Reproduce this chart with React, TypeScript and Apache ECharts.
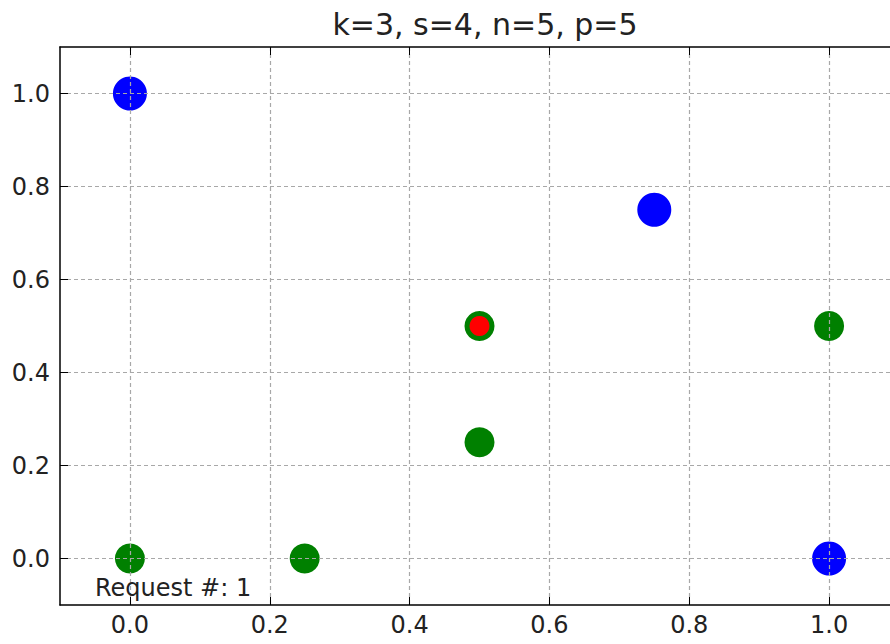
import React, { useEffect, useRef } from "react";
import * as echarts from "echarts";

const titleText = "k=3, s=4, n=5, p=5";
const annotation = "Request #: 1";
const tickValues = [0, 0.2, 0.4, 0.6, 0.8, 1.0];
const blueX = [0, 0.75, 1];
const blueY = [1, 0.75, 0];
const greenX = [0, 0.25, 0.5, 0.5, 1];
const greenY = [0, 0, 0.25, 0.5, 0.5];
const redX = [0.5];
const redY = [0.5];

const FONT = "DejaVu Sans";

export default function App() {
  const ref = useRef<HTMLDivElement>(null);
  useEffect(() => {
    if (!ref.current) return;
    const chart = echarts.init(ref.current, null, { renderer: "svg" });
    const pts = (xs: number[], ys: number[]) => xs.map((x, i) => [x, ys[i]]);
    const gridLine = { show: true, lineStyle: { color: "#a8a8a8", width: 1.2, type: [4, 3] as any } };
    const baseAxis = (pos: string, labels: boolean, split: boolean) => ({
      type: "value",
      position: pos,
      min: -0.1,
      max: 1.1,
      z: 5,
      axisLine: { show: true, onZero: false, lineStyle: { color: "#000", width: 1.5 } },
      axisTick: { show: true, inside: true, length: 8, customValues: tickValues, lineStyle: { color: "#000", width: 1 } },
      axisLabel: {
        show: labels,
        customValues: tickValues,
        formatter: (v: number) => v.toFixed(1),
        color: "#222",
        fontFamily: FONT,
        fontSize: 24,
        margin: pos === "left" ? 10 : 8,
      },
      splitLine: split ? { ...gridLine, customValues: tickValues } : { show: false },
    });
    chart.setOption({
      animation: false,
      backgroundColor: "#fff",
      title: {
        text: titleText,
        left: 480,
        textAlign: "center",
        top: 4,
        textStyle: { fontFamily: FONT, fontSize: 30, fontWeight: "normal", color: "#222" },
      },
      grid: { left: 60, top: 47, width: 839, height: 558, containLabel: false },
      xAxis: [baseAxis("bottom", true, true), baseAxis("top", false, false)],
      yAxis: [baseAxis("left", true, true), baseAxis("right", false, false)],
      series: [
        { type: "scatter", data: pts(blueX, blueY), symbolSize: 34, itemStyle: { color: "#0000ff", opacity: 1 }, z: 2 },
        { type: "scatter", data: pts(greenX, greenY), symbolSize: 30, itemStyle: { color: "#008000", opacity: 1 }, z: 2 },
        { type: "scatter", data: pts(redX, redY), symbolSize: 20, itemStyle: { color: "#ff0000", opacity: 1 }, z: 3 },
      ],
      graphic: [
        {
          type: "text",
          left: 95,
          top: 576,
          z: 10,
          style: { text: annotation, fontFamily: FONT, fontSize: 24, fill: "#222" },
        },
      ],
    });
    return () => chart.dispose();
  }, []);
  return (
    <div style={{ position: "fixed", left: 0, top: 0, width: 890, height: 644, overflow: "hidden", background: "#fff" }}>
      <div ref={ref} style={{ width: 960, height: 644 }} />
    </div>
  );
}
